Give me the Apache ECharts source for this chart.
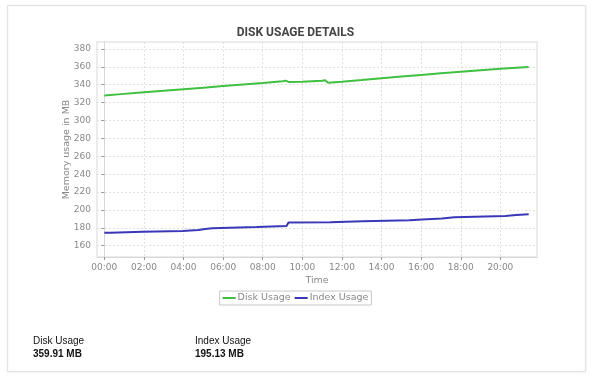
<!DOCTYPE html>
<html>
<head>
<meta charset="utf-8">
<script src="https://cdn.jsdelivr.net/npm/echarts@6/dist/echarts.min.js"></script>
<style>html,body{margin:0;padding:0;background:#fff;}#c{width:591px;height:380px;}</style>
</head>
<body>
<div id="c"></div>
<script>
// Time in hours since 00:00
const diskHours = [0, 1, 2, 3, 4, 5, 6, 7, 8, 9.0, 9.15, 9.3, 10.0, 11.0, 11.15, 11.3, 12, 13, 14, 15, 16, 17, 18, 19, 20, 21, 21.43];
const diskValues = [328, 329.8, 331.6, 333.3, 335, 336.7, 338.5, 340.3, 342, 344, 344.6, 343.2, 343.4, 344.6, 345, 342.2, 343.4, 345.3, 347.3, 349.2, 351, 352.8, 354.5, 356.2, 357.9, 359.4, 359.91];
const indexHours = [0, 0.3, 0.4, 1.95, 2.0, 3.95, 4.0, 4.75, 4.85, 5.1, 5.2, 5.45, 5.55, 7.7, 7.78, 9.2, 9.3, 11.4, 11.48, 13.05, 13.12, 15.4, 15.48, 16.05, 16.12, 17.05, 17.12, 17.68, 17.75, 20.25, 20.32, 20.8, 20.88, 21.43];
const indexValues = [174.5, 174.5, 175.5, 175.6, 176.4, 176.5, 177.3, 177.5, 178.5, 178.7, 179.4, 179.6, 180.8, 181, 181.9, 182.1, 186, 186.2, 187.1, 187.3, 188.2, 188.4, 189.3, 189.4, 190.2, 190.4, 191.6, 191.8, 193.1, 193.3, 194.2, 194.4, 195.1, 195.13];
const yTicks = [160, 180, 200, 220, 240, 260, 280, 300, 320, 340, 360, 380];
const xTicks = [0, 2, 4, 6, 8, 10, 12, 14, 16, 18, 20];
const seriesNames = ['Disk Usage', 'Index Usage'];
const summaryLabels = ['Disk Usage', 'Index Usage'];
const summaryValues = ['359.91 MB', '195.13 MB'];

const pad = n => (n < 10 ? '0' : '') + n;
const chart = echarts.init(document.getElementById('c'), null, {renderer: 'canvas'});
const axisFont = {fontFamily: 'DejaVu Sans', fontSize: 9, color: '#888'};
chart.setOption({
  animation: false,
  backgroundColor: '#fff',
  title: {
    text: 'DISK USAGE DETAILS',
    left: 'center', top: 22,
    textStyle: {fontFamily: 'Roboto', fontWeight: 'bold', fontSize: 12, color: '#444'}
  },
  legend: {
    data: seriesNames,
    top: 291, left: 'center',
    icon: 'rect', itemWidth: 13, itemHeight: 2, itemGap: 4,
    borderColor: '#c8c8c8', borderWidth: 1, padding: [2, 3],
    textStyle: {fontFamily: 'DejaVu Sans', fontSize: 9.5, color: '#888', padding: [0, 0, 0, -3]}
  },
  grid: {
    left: 97, right: 54, top: 42, bottom: 123,
    show: true, borderColor: '#ececec', borderWidth: 2
  },
  xAxis: {
    type: 'value', min: -0.37, max: 21.85,
    name: 'Time', nameLocation: 'middle', nameGap: 19, nameMoveOverlap: false,
    nameTextStyle: {fontFamily: 'DejaVu Sans', fontSize: 9.5, color: '#888'},
    axisLine: {show: true, lineStyle: {color: '#d8d8d8', width: 1}},
    axisTick: {show: true, length: 3, customValues: xTicks, lineStyle: {color: '#999'}},
    axisLabel: Object.assign({customValues: xTicks, margin: 6, formatter: v => pad(Math.round(v)) + ':00'}, axisFont),
    splitLine: {show: true, lineStyle: {color: '#e2e2e2', type: [2, 2]}}
  },
  yAxis: {
    type: 'value', min: 147.4, max: 387.8,
    name: 'Memory usage in MB', nameLocation: 'middle', nameGap: 25, nameRotate: 90, nameMoveOverlap: false,
    nameTextStyle: {fontFamily: 'DejaVu Sans', fontSize: 9.5, color: '#888'},
    axisLine: {show: true, lineStyle: {color: '#d8d8d8', width: 1}},
    axisTick: {show: true, length: 3, customValues: yTicks, lineStyle: {color: '#999'}},
    axisLabel: Object.assign({customValues: yTicks, margin: 6}, axisFont),
    splitLine: {show: true, lineStyle: {color: '#e2e2e2', type: [2, 2]}}
  },
  series: [
    {
      name: seriesNames[0], type: 'line', showSymbol: false, symbol: 'none',
      data: diskHours.map((h, i) => [h, diskValues[i]]),
      lineStyle: {color: '#40c040', width: 2}, itemStyle: {color: '#40c040'}
    },
    {
      name: seriesNames[1], type: 'line', showSymbol: false, symbol: 'none',
      data: indexHours.map((h, i) => [h, indexValues[i]]),
      lineStyle: {color: '#3838b8', width: 2}, itemStyle: {color: '#3838b8'}
    }
  ],
  graphic: [
    {type: 'rect', left: 7, top: 5, z: -10, silent: true,
     shape: {width: 578, height: 366},
     style: {fill: '#fff', stroke: '#e4e4e4', lineWidth: 1, shadowBlur: 2, shadowColor: 'rgba(0,0,0,0.08)'}},
    {type: 'text', left: 33, top: 336, style: {text: summaryLabels[0], font: '10px "Liberation Sans Narrow", "Liberation Sans"', fill: '#111'}},
    {type: 'text', left: 33, top: 349, style: {text: summaryValues[0], font: 'bold 10px "Liberation Sans Narrow", "Liberation Sans"', fill: '#111'}},
    {type: 'text', left: 195, top: 336, style: {text: summaryLabels[1], font: '10px "Liberation Sans Narrow", "Liberation Sans"', fill: '#111'}},
    {type: 'text', left: 195, top: 349, style: {text: summaryValues[1], font: 'bold 10px "Liberation Sans Narrow", "Liberation Sans"', fill: '#111'}}
  ]
});
</script>
</body>
</html>
